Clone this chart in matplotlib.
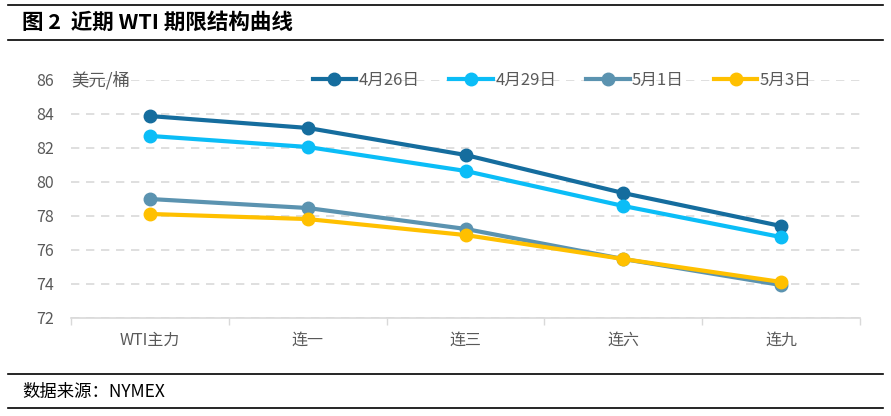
import matplotlib
matplotlib.use('Agg')
import matplotlib.pyplot as plt
from matplotlib.lines import Line2D

plt.rcParams['font.family'] = ['Noto Sans CJK SC', 'DejaVu Sans']

categories = ['WTI主力', '连一', '连三', '连六', '连九']
series_names = ['4月26日', '4月29日', '5月1日', '5月3日']
apr26 = [83.88, 83.18, 81.59, 79.35, 77.41]
apr29 = [82.71, 82.06, 80.65, 78.59, 76.76]
may01 = [79.00, 78.47, 77.24, 75.47, 73.94]
may03 = [78.12, 77.82, 76.88, 75.47, 74.12]
colors = ['#156d9e', '#0bbdf7', '#5b93b0', '#ffc000']

fig = plt.figure(figsize=(8.91, 4.16), dpi=100)
ax = fig.add_axes([71 / 891, 1 - 318 / 416, (860 - 71) / 891, (318 - 80) / 416])

x = list(range(len(categories)))
for vals, c, name in zip([apr26, apr29, may01, may03], colors, series_names):
    ax.plot(x, vals, '-o', color=c, lw=3, ms=9, label=name, zorder=3)

ax.set_xlim(-0.5, len(categories) - 0.5)
ax.set_ylim(72, 86)
ax.set_yticks(range(72, 87, 2))
ax.set_xticks(x)
ax.set_xticklabels(categories)
ax.set_xticks([i - 0.5 for i in range(len(categories) + 1)], minor=True)
ax.tick_params(axis='x', which='major', length=0, pad=10, labelsize=11.5, labelcolor='#595959')
ax.tick_params(axis='x', which='minor', length=5, color='#d9d9d9', width=1)
ax.tick_params(axis='y', length=0, pad=12, labelsize=11.5, labelcolor='#595959')
ax.grid(axis='y', linestyle=(0, (5, 4)), color='#d9d9d9', lw=1.2, zorder=0)
for s in ['top', 'right', 'left']:
    ax.spines[s].set_visible(False)
ax.spines['bottom'].set_color('#d9d9d9')
ax.spines['bottom'].set_linewidth(1.2)
ax.set_axisbelow(True)

ax.text(0.0, 1.0, '美元/桶', transform=ax.transAxes, fontsize=12.5, color='#595959',
        ha='left', va='center')

handles = [Line2D([], [], color=c, lw=3, marker='o', ms=9) for c in colors]
fig.legend(handles, series_names, loc='center', bbox_to_anchor=(562 / 891, 1 - 80 / 416),
           ncol=4, frameon=False, handlelength=2.6, handletextpad=0.15, columnspacing=1.8,
           prop={'size': 12}, labelcolor='#595959')

# title and source with rules
for yy in [5, 40, 374, 408]:
    fig.add_artist(Line2D([8 / 891, 883 / 891], [1 - yy / 416] * 2, color='black', lw=1.2))
fig.text(22 / 891, 1 - 22 / 416, '图 2  近期 WTI 期限结构曲线', fontsize=15.5, fontweight='bold',
         ha='left', va='center')
fig.text(22 / 891, 1 - 392 / 416, '数据来源：NYMEX', fontsize=12.5, ha='left', va='center')

fig.savefig('out.png', dpi=100)
